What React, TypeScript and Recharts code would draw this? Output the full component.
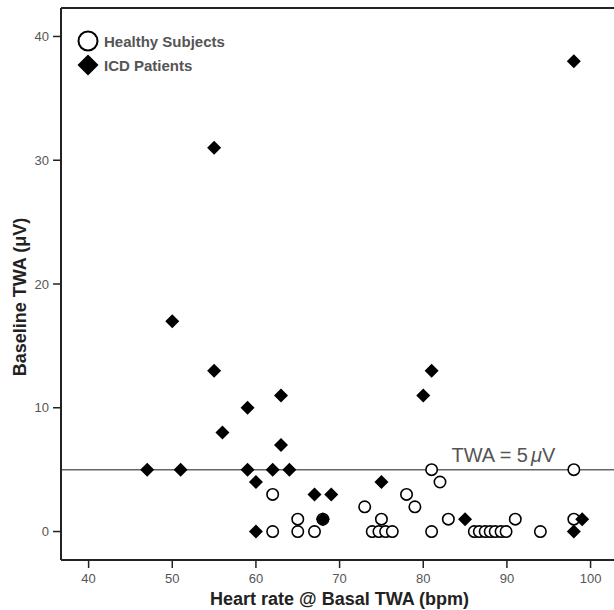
import { ScatterChart, Scatter, XAxis, YAxis, ReferenceLine, Legend } from "recharts";

// Healthy subjects (open circles)
const healthyHr = [81, 98, 82, 62, 78, 73, 79, 65, 68, 75, 83, 91, 98, 62, 65, 67, 73.9, 74.7, 75.5, 76.3, 81, 86.1, 86.7, 87.4, 88.0, 88.6, 89.3, 89.9, 94];
const healthyTwa = [5, 5, 4, 3, 3, 2, 2, 1, 1, 1, 1, 1, 1, 0, 0, 0, 0, 0, 0, 0, 0, 0, 0, 0, 0, 0, 0, 0, 0];

// ICD patients (filled diamonds)
const icdHr = [98, 55, 50, 55, 81, 80, 63, 59, 56, 63, 47, 51, 59, 62, 64, 60, 75, 67, 69, 68, 85, 99, 60, 98];
const icdTwa = [38, 31, 17, 13, 13, 11, 11, 10, 8, 7, 5, 5, 5, 5, 5, 4, 4, 3, 3, 1, 1, 1, 0, 0];

const xTicks = [40, 50, 60, 70, 80, 90, 100];
const yTicks = [0, 10, 20, 30, 40];
const threshold = 5;

const healthy = healthyHr.map((hr, i) => ({ hr, twa: healthyTwa[i] }));
const icd = icdHr.map((hr, i) => ({ hr, twa: icdTwa[i] }));

const FONT = "Arial, 'Liberation Sans', Helvetica, sans-serif";
const AXIS = "#222";

const OpenCircle = (props: any) => (
  <circle cx={props.cx} cy={props.cy} r={5.7} fill="#fff" stroke="#000" strokeWidth={1.6} />
);

const Diamond = (props: any) => {
  const { cx, cy } = props;
  const d = 7;
  return <polygon points={`${cx},${cy - d} ${cx + d},${cy} ${cx},${cy + d} ${cx - d},${cy}`} fill="#000" />;
};

const LegendBox = () => (
  <svg width={190} height={50}>
    <circle cx={14} cy={12} r={9.5} fill="#fff" stroke="#000" strokeWidth={2} />
    <polygon points="14,25.5 24.5,36 14,46.5 3.5,36" fill="#000" />
    <text x={30} y={12} dominantBaseline="central" fontFamily={FONT} fontSize={15} fontWeight="bold" fill="#555">
      Healthy Subjects
    </text>
    <text x={30} y={36} dominantBaseline="central" fontFamily={FONT} fontSize={15} fontWeight="bold" fill="#555">
      ICD Patients
    </text>
  </svg>
);

const ThresholdLabel = (props: any) => {
  const { viewBox } = props;
  return (
    <text
      x={viewBox.x + viewBox.width * 0.8}
      y={viewBox.y - 8}
      textAnchor="middle"
      fontFamily={FONT}
      fontSize={20}
      fill="#555"
    >
      TWA = 5
      <tspan fontStyle="italic" dx={3}>μ</tspan>
      V
    </text>
  );
};

const YTitle = (props: any) => {
  const { viewBox } = props;
  const x = viewBox.x + 19;
  const y = viewBox.y + viewBox.height / 2 + 13;
  return (
    <text
      x={x}
      y={y}
      transform={`rotate(-90, ${x}, ${y})`}
      textAnchor="middle"
      dominantBaseline="central"
      fontFamily={FONT}
      fontSize={18}
      fontWeight="bold"
      fill="#222"
    >
      Baseline TWA (μV)
    </text>
  );
};

const XTitle = (props: any) => {
  const { viewBox } = props;
  return (
    <text
      x={viewBox.x + viewBox.width / 2 + 2}
      y={viewBox.y + 39}
      textAnchor="middle"
      dominantBaseline="central"
      fontFamily={FONT}
      fontSize={18}
      fontWeight="bold"
      fill="#222"
    >
      Heart rate @ Basal TWA (bpm)
    </text>
  );
};

export default function App() {
  return (
    <div style={{ position: "absolute", left: 0, top: 0, background: "#fff" }}>
      <ScatterChart width={614} height={610} margin={{ top: 8, right: 0, bottom: 0, left: 1 }}>
        <XAxis
          type="number"
          dataKey="hr"
          domain={[36.7, 102.8]}
          ticks={xTicks}
          allowDataOverflow
          height={50}
          tickSize={8}
          tickMargin={6}
          axisLine={{ stroke: AXIS, strokeWidth: 2 }}
          tickLine={{ stroke: AXIS, strokeWidth: 1.5 }}
          tick={{ fontFamily: FONT, fontSize: 13, fill: "#555" }}
          label={<XTitle />}
        />
        <YAxis
          type="number"
          dataKey="twa"
          domain={[-2.3, 42.3]}
          ticks={yTicks}
          allowDataOverflow
          width={60}
          tickSize={8}
          tickMargin={4}
          axisLine={{ stroke: AXIS, strokeWidth: 2 }}
          tickLine={{ stroke: AXIS, strokeWidth: 1.5 }}
          tick={{ fontFamily: FONT, fontSize: 13, fill: "#555" }}
          label={<YTitle />}
        />
        <ReferenceLine y={42.3} stroke={AXIS} strokeWidth={2} />
        <ReferenceLine y={threshold} stroke="#666" strokeWidth={1.5} label={<ThresholdLabel />} />
        <Legend
          layout="vertical"
          align="center"
          verticalAlign="middle"
          wrapperStyle={{ left: 74, top: 29, width: 190, height: 50 }}
          content={() => <LegendBox />}
        />
        <Scatter name="Healthy Subjects" data={healthy} shape={OpenCircle} isAnimationActive={false} />
        <Scatter name="ICD Patients" data={icd} shape={Diamond} isAnimationActive={false} />
      </ScatterChart>
    </div>
  );
}
